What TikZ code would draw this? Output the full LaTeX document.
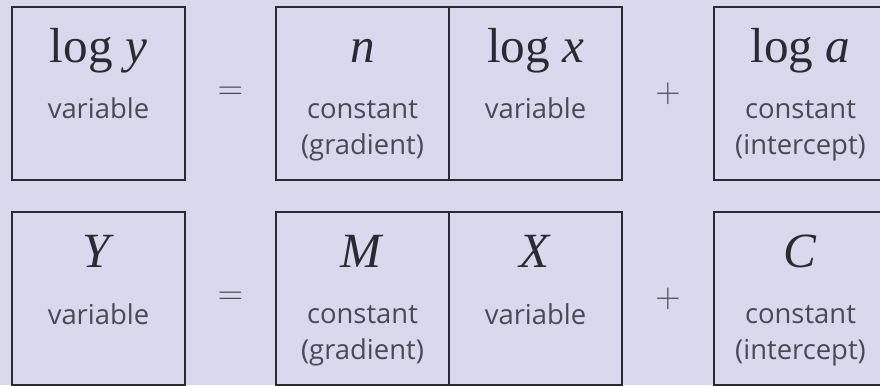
\documentclass[tikz,border=0pt]{standalone}
\usepackage{fontspec}
\setsansfont{Open Sans}
\newfontfamily\symfont{Liberation Serif}
\usetikzlibrary{calc,positioning}
\definecolor{LogBack}{HTML}{DAD8EC}
\definecolor{LogLine}{HTML}{2B2A33}
\definecolor{LogText}{HTML}{4A4955}

\begin{document}
\begin{tikzpicture}[x=0.25mm,y=0.25mm,
    cell/.style={
      draw=LogLine,
      line width=2.1pt,
      minimum width=43.25mm,
      minimum height=43.25mm,
      inner sep=0pt,
      outer sep=0pt
    },
    sym/.style={
      anchor=base,
      text=LogLine,
      font=\symfont\fontsize{35}{40}\selectfont
    },
    tag/.style={
      anchor=base,
      align=center,
      text=LogText,
      font=\sffamily\fontsize{19.5}{25}\selectfont
    },
    op/.style={
      text=LogLine!85,
      font=\fontsize{27}{30}\selectfont
    }]

    \fill[LogBack] (0,0) rectangle (880,385);
    \useasboundingbox (0,0) rectangle (880,385);
    \clip (0,0) rectangle (880,385);

    % the two rows of boxes
    \foreach \r/\yy in {t/291.5, b/86.5}{
      \node[cell] (\r1) at (98.5,\yy) {};
      \node[cell] (\r2) at (362.5,\yy) {};
      \node[cell,right=0pt of \r2] (\r3) {};
      \node[cell] (\r4) at (800.5,\yy) {};

      \node[op] (\r eq) at ($(\r1.east)!0.5!(\r2.west)$) {$=$};
      \node[op] (\r plus) at ($(\r3.east)!0.5!(\r4.west)$) {$+$};
    }

    % top row: log form
    \node[sym] (t1s) at ([yshift=-14mm]t1.north) {log \textit{y}};
    \node[sym] (t2s) at ([yshift=-14mm]t2.north) {\textit{n}};
    \node[sym] (t3s) at ([yshift=-14mm]t3.north) {log \textit{x}};
    \node[sym] (t4s) at ([yshift=-14mm]t4.north) {log \textit{a}};

    % base of a two line tag is its last line
    \node[tag] (t1l) at ([yshift=-28mm]t1.north) {variable};
    \node[tag] (t2l) at ([yshift=-36.75mm]t2.north) {constant\\(gradient)};
    \node[tag] (t3l) at ([yshift=-28mm]t3.north) {variable};
    \node[tag] (t4l) at ([yshift=-36.75mm]t4.north) {constant\\(intercept)};

    % bottom row: straight line form
    \node[sym] (b1s) at ([yshift=-14mm]b1.north) {\textit{Y}};
    \node[sym] (b2s) at ([yshift=-14mm]b2.north) {\textit{M}};
    \node[sym] (b3s) at ([yshift=-14mm]b3.north) {\textit{X}};
    \node[sym] (b4s) at ([yshift=-14mm]b4.north) {\textit{C}};

    \node[tag] (b1l) at ([yshift=-28mm]b1.north) {variable};
    \node[tag] (b2l) at ([yshift=-36.75mm]b2.north) {constant\\(gradient)};
    \node[tag] (b3l) at ([yshift=-28mm]b3.north) {variable};
    \node[tag] (b4l) at ([yshift=-36.75mm]b4.north) {constant\\(intercept)};

  \end{tikzpicture}
\end{document}
